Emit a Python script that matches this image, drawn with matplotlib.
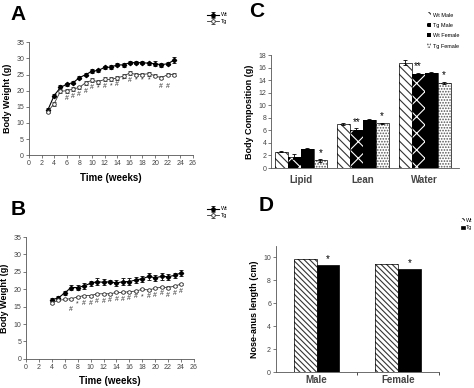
import matplotlib.pyplot as plt
import numpy as np

plt.rcParams['font.family'] = ['Liberation Sans', 'DejaVu Sans']
plt.rcParams['hatch.linewidth'] = 0.8

# ---- Panel A data (weeks 3-23)
weeks_a = np.arange(3, 24)
wt_a = [14, 18.5, 21, 22, 22.5, 24, 25, 26, 26.3, 27.2, 27.3, 28, 28, 28.7, 28.7, 28.7, 28.5, 28.4, 28, 28.4, 29.4]
wt_a_err = [0.5, 0.6, 0.7, 0.5, 0.5, 0.5, 0.5, 0.6, 0.5, 0.5, 0.6, 0.5, 0.7, 0.5, 0.5, 0.5, 0.5, 0.7, 0.6, 0.5, 0.9]
tg_a = [13.5, 16, 19.8, 20, 20.5, 21, 22.5, 23.2, 22.8, 23.5, 23.5, 24, 24.5, 25.5, 25, 25, 25.3, 24.6, 24, 25, 25]
tg_a_err = [0.4, 0.6, 0.6, 0.6, 0.6, 0.6, 0.6, 0.6, 0.6, 0.6, 0.6, 0.6, 0.6, 0.6, 0.6, 0.6, 0.6, 0.5, 0.5, 0.4, 0.4]
sig_a_weeks = [6, 7, 8, 9, 10, 11, 12, 13, 14, 15, 16, 17, 18, 19, 21, 22]
sig_a_y = [17.5, 18.3, 18.8, 19.6, 21, 21, 21.3, 21.6, 22, 23.3, 23.3, 23.4, 23.4, 23.4, 21.3, 21.3]
sig_a_txt = ['#', '#', '#', '#', '#', '*', '#', '*', '#', '*', '#', '*', '*', '*', '#', '#']

# ---- Panel B data (weeks 4-24)
weeks_b = np.arange(4, 25)
wt_b = [17, 17.5, 19, 20.5, 20.5, 21, 21.7, 22.2, 22, 22.2, 21.8, 22.2, 22.2, 22.7, 23, 23.7, 23.3, 23.7, 23.6, 24, 24.7]
wt_b_err = [0.6, 0.6, 0.6, 0.7, 0.8, 0.8, 0.8, 1.0, 0.9, 0.5, 0.8, 1.0, 0.9, 0.8, 0.9, 0.9, 0.8, 0.9, 0.9, 0.8, 0.8]
tg_b = [16.2, 16.8, 17.1, 17.3, 17.8, 18.2, 18.2, 18.7, 18.7, 18.7, 19.1, 19.1, 19.3, 19.5, 20, 19.8, 20.3, 20.6, 20.5, 20.9, 21.5]
tg_b_err = [0.3] * 21
sig_b_weeks = [7, 8, 9, 10, 11, 12, 13, 14, 15, 16, 17, 18, 19, 20, 21, 22, 23, 24]
sig_b_y = [14.3, 15.8, 15.8, 15.8, 16.6, 16.6, 16.8, 17.0, 17.0, 17.3, 17.8, 17.8, 18.0, 18.2, 18.8, 18.2, 18.8, 19.5]
sig_b_txt = ['#', '*', '#', '#', '#', '#', '#', '#', '#', '#', '#', '*', '#', '#', '#', '#', '#', '#']

# ---- Panel C data
comp_groups = ['Lipid', 'Lean', 'Water']
comp_series = ['Wt Male', 'Tg Male', 'Wt Female', 'Tg Female']
comp_vals = [[2.6, 7.0, 16.8], [1.8, 6.1, 15.0], [3.1, 7.7, 15.2], [1.2, 7.1, 13.6]]
comp_err = [[0.1, 0.1, 0.35], [0.4, 0.2, 0.2], [0.1, 0.1, 0.1], [0.2, 0.15, 0.15]]
comp_sig = [['', '', ''], ['', '**', '**'], ['', '', ''], ['*', '*', '*']]

# ---- Panel D data
len_groups = ['Male', 'Female']
len_wt = [9.85, 9.4]
len_tg = [9.3, 9.0]
len_sig = ['*', '*']

fig = plt.figure(figsize=(4.74, 3.88), dpi=100)

def style_ax(ax):
    for s in ['top', 'right']:
        ax.spines[s].set_visible(False)
    for s in ['left', 'bottom']:
        ax.spines[s].set_linewidth(0.6)
        ax.spines[s].set_color('#555555')
    ax.tick_params(labelsize=5, length=2, width=0.5, colors='#444444', pad=1.5)

def line_panel(rect, weeks, wt, wt_err, tg, tg_err, sw, sy, st, letter, lpos, lettery):
    ax = fig.add_axes(rect)
    style_ax(ax)
    ax.errorbar(weeks, wt, yerr=wt_err, color='black', marker='D', ms=2.2, lw=0.8,
                capsize=1.5, elinewidth=0.6, capthick=0.6, label='Wt')
    ax.errorbar(weeks, tg, yerr=tg_err, color='#333333', marker='o', ms=2.6, mfc='white',
                mew=0.6, lw=0.6, capsize=1.5, elinewidth=0.5, capthick=0.5, label='Tg')
    for w, y, t in zip(sw, sy, st):
        ax.text(w, y, t, fontsize=5, ha='center', va='center', color='#333333')
    ax.set_xlim(0, 26)
    ax.set_ylim(0, 35)
    ax.set_xticks(range(0, 27, 2))
    ax.set_yticks(range(0, 36, 5))
    ax.set_xlabel('Time (weeks)', fontsize=7, fontweight='bold', labelpad=4)
    ax.set_ylabel('Body Weight (g)', fontsize=6.5, fontweight='bold', labelpad=3)
    ax.legend(loc='upper left', bbox_to_anchor=lpos, bbox_transform=fig.transFigure,
              frameon=False, fontsize=4, handlelength=2.2, labelspacing=0.3,
              handletextpad=0.3, borderpad=0)
    fig.text(0.022, lettery, letter, fontsize=15, fontweight='bold')
    return ax

line_panel([0.061, 0.600, 0.346, 0.291], weeks_a, wt_a, wt_a_err, tg_a, tg_a_err,
           sig_a_weeks, sig_a_y, sig_a_txt, 'A', (0.43, 0.975), 0.948)
line_panel([0.055, 0.075, 0.354, 0.314], weeks_b, wt_b, wt_b_err, tg_b, tg_b_err,
           sig_b_weeks, sig_b_y, sig_b_txt, 'B', (0.43, 0.475), 0.447)

# ---- Panel C
axc = fig.add_axes([0.572, 0.567, 0.397, 0.291])
style_ax(axc)
x = np.arange(len(comp_groups))
bw = 0.21
faces = ['white', 'black', 'black', 'white']
hatch_col = ['#333333', 'white', 'black', '#555555']
hatches = ['\\\\\\\\', 'xx', None, '......']
for i in range(4):
    pos = x + (i - 1.5) * bw
    axc.bar(pos, comp_vals[i], bw, color=faces[i], edgecolor=hatch_col[i], hatch=hatches[i],
            lw=0, label=comp_series[i])
    axc.bar(pos, comp_vals[i], bw, fill=False, edgecolor='black', lw=0.5)
    axc.errorbar(pos, comp_vals[i], yerr=comp_err[i], fmt='none', ecolor='black',
                 elinewidth=0.6, capsize=1.5, capthick=0.6)
    for p, v, e, s in zip(pos, comp_vals[i], comp_err[i], comp_sig[i]):
        if s:
            axc.text(p, v + e + 0.2, s, fontsize=7, ha='center', va='bottom')
axc.set_xlim(-0.48, 2.56)
axc.set_ylim(0, 18)
axc.set_yticks(range(0, 19, 2))
axc.set_xticks(x)
axc.set_xticklabels(comp_groups, fontsize=7, fontweight='bold')
axc.tick_params(axis='x', length=0, pad=5)
axc.set_ylabel('Body Composition (g)', fontsize=6.5, fontweight='bold', labelpad=3)
axc.legend(loc='upper left', bbox_to_anchor=(0.895, 0.975), bbox_transform=fig.transFigure,
           frameon=False, fontsize=4, handlelength=0.8, handleheight=0.8,
           labelspacing=0.95, handletextpad=0.3, borderpad=0)
fig.text(0.525, 0.955, 'C', fontsize=15, fontweight='bold')

# ---- Panel D
axd = fig.add_axes([0.582, 0.041, 0.344, 0.325])
style_ax(axd)
xd = np.arange(len(len_groups))
bwd = 0.28
axd.bar(xd - bwd / 2, len_wt, bwd, color='white', edgecolor='#333333', hatch='\\\\\\\\\\\\',
        lw=0, label='Wt')
axd.bar(xd - bwd / 2, len_wt, bwd, fill=False, edgecolor='black', lw=0.5)
axd.bar(xd + bwd / 2, len_tg, bwd, color='black', edgecolor='black', lw=0.5, label='Tg')
for p, v, s in zip(xd + bwd / 2, len_tg, len_sig):
    axd.text(p, v + 0.1, s, fontsize=7, ha='center', va='bottom')
axd.set_xlim(-0.5, 1.5)
axd.set_ylim(0, 11)
axd.set_yticks(range(0, 11, 2))
axd.set_xticks(xd)
axd.set_xticklabels(len_groups, fontsize=7, fontweight='bold')
axd.set_xticks([0.5, 1.5], minor=True)
axd.tick_params(axis='x', which='major', length=0, pad=2)
axd.tick_params(axis='x', which='minor', length=2, width=0.5)
axd.set_ylabel('Nose-anus length (cm)', fontsize=6.5, fontweight='bold', labelpad=3)
axd.legend(loc='upper left', bbox_to_anchor=(0.968, 0.445), bbox_transform=fig.transFigure,
           frameon=False, fontsize=3.8, handlelength=0.6, handleheight=0.6,
           labelspacing=0.4, handletextpad=0.2, borderpad=0)
fig.text(0.545, 0.455, 'D', fontsize=15, fontweight='bold')

fig.savefig('out.png', dpi=100)
